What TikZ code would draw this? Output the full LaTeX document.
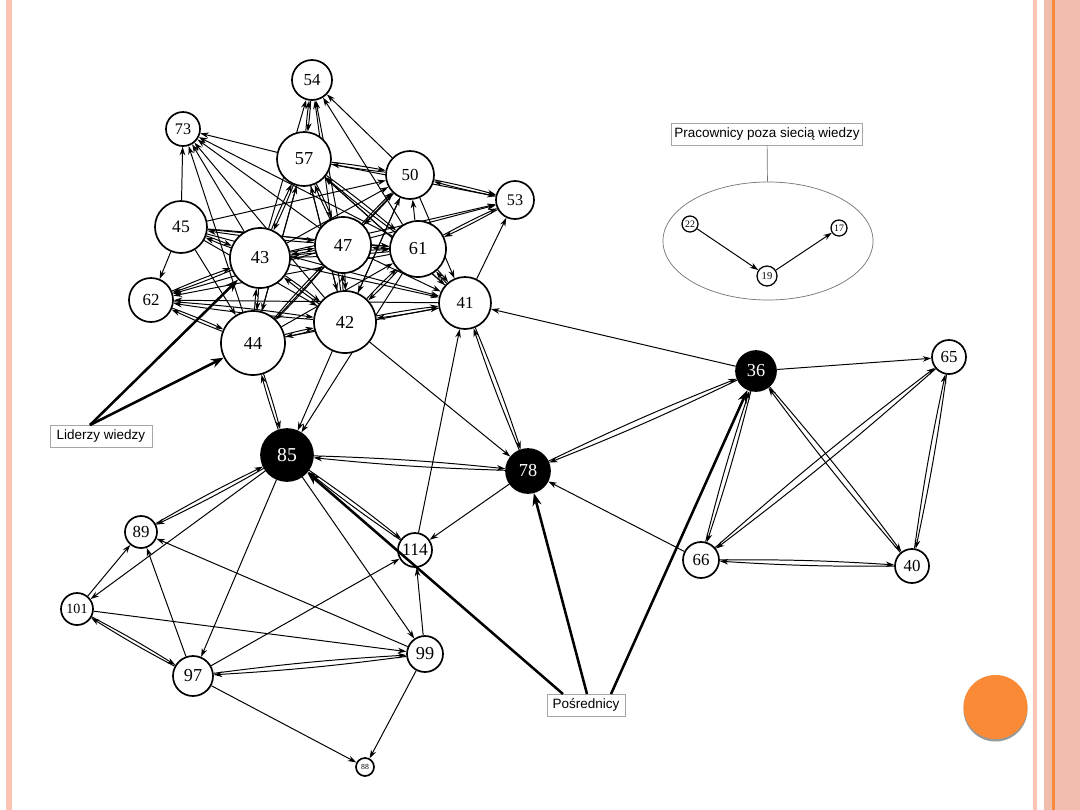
\documentclass[tikz,border=0pt]{standalone}
\usepackage{fontspec}
\setmainfont{Liberation Serif}
\newfontfamily\tagfont{Liberation Sans}
\usetikzlibrary{shapes.geometric,arrows.meta,backgrounds}
\definecolor{SlidePink}{HTML}{FCC5B3}
\definecolor{SlideSalmon}{HTML}{F1BEAD}
\definecolor{SlideOrange}{HTML}{F8893B}
\definecolor{DotOrange}{HTML}{FB8A37}

\begin{document}
\begin{tikzpicture}[x=0.025cm,y=-0.025cm,
  nd/.style 2 args={circle,draw,fill=white,line width=1.2pt,inner sep=0pt,
                    minimum size=#1cm,font=\fontsize{#2}{#2}\selectfont},
  hub/.style={fill=black,text=white},
  ed/.style={-{Stealth[length=6pt,width=4pt]},line width=0.7pt},
  lead/.style={-{Stealth[length=9pt,width=6.5pt]},line width=1.8pt},
  tag/.style={draw=black!35,fill=white,line width=0.5pt,minimum height=0.55cm,
              inner sep=2pt,font=\tagfont\fontsize{9.6}{10}\selectfont},
]
\useasboundingbox (0,0) rectangle (1080,810);
\fill[SlidePink] (6,0) rectangle (12,810);
\fill[SlidePink] (1033,0) rectangle (1037,810);
\fill[SlideSalmon] (1044,0) rectangle (1080,810);
\fill[SlideOrange] (1052,0) rectangle (1054.5,810);
\fill[black!40] (995.5,709.5) circle (32);
\fill[DotOrange] (995.5,707) circle (32);

\node[nd={1.0}{12}] (n54) at (312,80) {54};
\node[nd={0.85}{11.5}] (n73) at (183,129) {73};
\node[nd={1.35}{13}] (n57) at (304,159) {57};
\node[nd={1.2}{12}] (n50) at (410,175) {50};
\node[nd={0.95}{11.5}] (n53) at (515,200) {53};
\node[nd={1.3}{12.5}] (n45) at (181,227) {45};
\node[nd={1.5}{13}] (n43) at (260,258) {43};
\node[nd={1.4}{13}] (n47) at (343,245) {47};
\node[nd={1.4}{13}] (n61) at (418,249) {61};
\node[nd={1.1}{12}] (n62) at (151,300) {62};
\node[nd={1.3}{12}] (n41) at (465,303) {41};
\node[nd={1.55}{13}] (n42) at (345,322) {42};
\node[nd={1.6}{13}] (n44) at (253,343) {44};
\node[nd={1.3}{14},hub] (n85) at (287,455) {85};
\node[nd={1.1}{13},hub] (n78) at (528,471) {78};
\node[nd={1.0}{13},hub] (n36) at (756,371) {36};
\node[nd={0.85}{12}] (n65) at (949,357) {65};
\node[nd={0.9}{12}] (n66) at (701,560) {66};
\node[nd={0.85}{12}] (n40) at (912,566) {40};
\node[nd={0.85}{12.5}] (n114) at (415,550) {114};
\node[nd={0.8}{12}] (n89) at (141,532) {89};
\node[nd={0.8}{10}] (n101) at (77,609) {101};
\node[nd={1.0}{13}] (n97) at (193,676) {97};
\node[nd={0.9}{13}] (n99) at (425,654) {99};
\node[nd={0.45}{5.5}] (n88) at (365,767) {88};

\node[tag,minimum width=4.75cm] (prac) at (767,134) {Pracownicy poza siecią wiedzy};
\node[draw=black!55,ellipse,line width=0.5pt,minimum width=5.25cm,minimum height=2.95cm] (grp) at (768,241) {};
\draw[black!55,line width=0.5pt] (prac) -- (grp);
\node[nd={0.4}{7},line width=0.9pt] (n22) at (690,224) {22};
\node[nd={0.5}{7.5},line width=0.9pt] (n19) at (767,276) {19};
\node[nd={0.4}{7},line width=0.9pt] (n17) at (839,228) {17};

\node[tag,minimum width=2.55cm] (lid) at (101,436) {Liderzy wiedzy};
\node[tag,minimum width=1.95cm] (pos) at (586,705) {Pośrednicy};
\coordinate (lidtip) at (90,425);
\coordinate (posa) at (563,694);
\coordinate (posb) at (587,694);
\coordinate (posc) at (611,694);

\begin{scope}[on background layer]
\fill[white] (14,0) rectangle (1030,810);
\foreach \a/\b in {45/73,57/73,43/73,47/73,61/73,42/73,44/73,
                   43/54,47/54,42/54,50/54,61/54,
                   57/53,47/53,41/53,43/53,
                   45/62,47/62,61/62,41/62,
                   45/50,43/50,44/50,42/50,61/50,
                   57/41,50/41,43/41,47/41,45/41,44/41,
                   44/61,45/61,42/57,44/57,41/57,
                   45/42,57/42,50/42,45/44,57/44,
                   61/85,42/85,42/78,85/101,85/97,85/99,78/114,114/41,
                   36/41,36/65,66/78,101/89,97/89,99/89,101/99,97/114,
                   99/114,97/88,99/88,22/19,19/17}
  \draw[ed] (n\a) -- (n\b);
\foreach \a/\b in {57/54,50/53,61/53,57/50,57/43,57/47,57/61,43/45,45/47,
                   43/47,47/61,43/62,62/44,62/42,43/44,42/44,43/42,47/42,
                   47/44,61/42,61/41,42/41,47/50,43/61,
                   44/85,85/78,85/89,85/114,41/78,78/36,36/66,36/40,
                   65/66,65/40,66/40,101/97,97/99}
  {\draw[ed] (n\a) to[bend left=2] (n\b);
   \draw[ed] (n\b) to[bend left=2] (n\a);}
\end{scope}

\draw[lead] (lidtip) -- (n43);
\draw[lead] (lidtip) -- (n44);
\draw[lead] (posa) -- (n85);
\draw[lead] (posb) -- (n78);
\draw[lead] (posc) -- (n36);
\end{tikzpicture}
\end{document}
